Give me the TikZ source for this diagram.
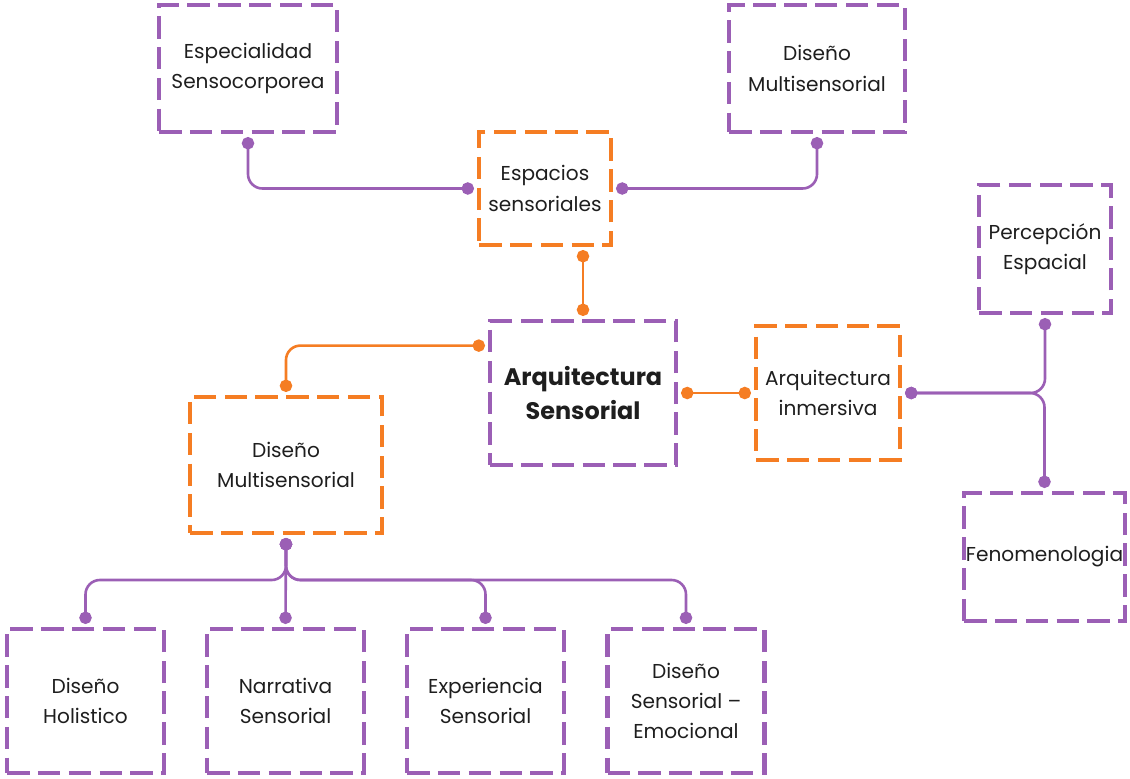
\documentclass[tikz,border=0pt]{standalone}
\usepackage{fontspec}
\setmainfont{Poppins}
\usetikzlibrary{arrows.meta}

\definecolor{lila}{RGB}{155,95,181}
\definecolor{naranja}{RGB}{245,125,35}
\definecolor{texto}{RGB}{30,30,30}

\tikzset{
    caja/.style={
        line width=0.11cm,
        dash pattern=on 0.56cm off 0.21cm,
        align=center,
        inner sep=0pt,
        outer sep=0.13cm,
        text=texto,
        font=\fontsize{14.3}{21.5}\selectfont
    },
    cajalila/.style={caja, draw=lila},
    cajanaranja/.style={caja, draw=naranja},
    enlace/.style={
        line width=0.065cm,
        rounded corners=0.36cm,
        {Circle[length=0.31cm]}-{Circle[length=0.31cm]}
    }
}

\begin{document}
\begin{tikzpicture}[x=0.025cm, y=-0.025cm]
    \useasboundingbox (0,0) rectangle (1130,778);

    % Nodo central:
    \node[cajalila, minimum width=4.64cm, minimum height=3.59cm,
          font=\bfseries\fontsize{17}{24}\selectfont] (arqsen) at (583,393)
          {Arquitectura\\Sensorial};

    % Ramas naranjas:
    \node[cajanaranja, minimum width=3.29cm, minimum height=2.815cm] (espacios) at (545,188.5)
          {Espacios\\sensoriales};
    \node[cajanaranja, minimum width=3.59cm, minimum height=3.34cm] (arqinm) at (828,393)
          {Arquitectura\\inmersiva};
    \node[cajanaranja, minimum width=4.79cm, minimum height=3.39cm] (dismul) at (286,465)
          {Diseño\\Multisensorial};

    % Hojas de arriba:
    \node[cajalila, minimum width=4.44cm, minimum height=3.165cm] (espsen) at (248,68.5)
          {Especialidad\\Sensocorporea};
    \node[cajalila, minimum width=4.39cm, minimum height=3.165cm] (distop) at (817,68.5)
          {Diseño\\Multisensorial};

    % Hojas de la derecha:
    \node[cajalila, minimum width=3.29cm, minimum height=3.19cm] (percep) at (1045,249)
          {Percepción\\Espacial};
    \node[cajalila, minimum width=4.015cm, minimum height=3.19cm] (fenom) at (1044.5,557)
          {Fenomenologia};

    % Hojas de abajo:
    \foreach \nombre/\x/\texto in {holis/85.5/{Diseño\\Holistico},
                                  narr/285.5/{Narrativa\\Sensorial},
                                  exper/485.5/{Experiencia\\Sensorial},
                                  emoc/686/{Diseño\\Sensorial --\\Emocional}}
        \node[cajalila, minimum width=3.915cm, minimum height=3.59cm] (\nombre) at (\x,701) {\texto};

    % Conectores:
    \draw[enlace, lila] (espsen.south) |- (espacios.west);
    \draw[enlace, lila] (espacios.east) -| (distop.south);
    \draw[enlace, naranja] (espacios.south -| arqsen.north) -- (arqsen.north);
    \draw[enlace, naranja] ([yshift=-0.74cm]arqsen.north west) -| (dismul.north);
    \draw[enlace, naranja] (arqsen.east) -- (arqinm.west);
    \draw[enlace, lila] (arqinm.east) -| (percep.south);
    \draw[enlace, lila] (arqinm.east) -| (fenom.north);

    % reparto hacia las hojas de abajo
    \coordinate (nudo) at (286,580);
    \draw[enlace, lila] (dismul.south) -- (narr.north);
    \foreach \hoja in {holis, exper, emoc}
        \draw[enlace, lila] (dismul.south) -- (nudo) -| (\hoja.north);
\end{tikzpicture}
\end{document}
